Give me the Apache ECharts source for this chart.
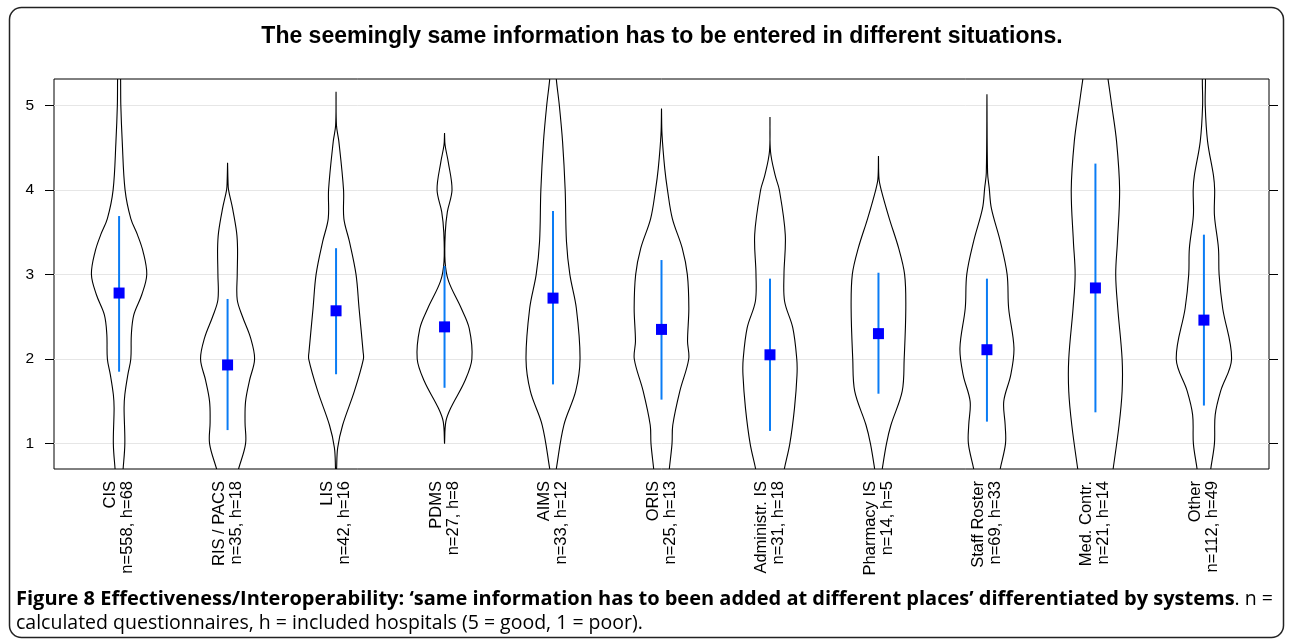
<!DOCTYPE html>
<html>
<head>
<meta charset="utf-8">
<script src="https://cdn.jsdelivr.net/npm/echarts@6/dist/echarts.min.js"></script>
<style>
html,body{margin:0;padding:0;background:#fff;}
#chart{width:1292px;height:644px;}
</style>
</head>
<body>
<div id="chart"></div>
<script>
// ---------------- data ----------------
const categories = ['CIS', 'RIS / PACS', 'LIS', 'PDMS', 'AIMS', 'ORIS', 'Administr. IS', 'Pharmacy IS', 'Staff Roster', 'Med. Contr.', 'Other'];
const sampleInfo = ['n=558, h=68', 'n=35, h=18', 'n=42, h=16', 'n=27, h=8', 'n=33, h=12', 'n=25, h=13', 'n=31, h=18', 'n=14, h=5', 'n=69, h=33', 'n=21, h=14', 'n=112, h=49'];
const means = [2.78, 1.93, 2.57, 2.38, 2.72, 2.35, 2.05, 2.30, 2.11, 2.84, 2.46];
const lowerBars = [1.85, 1.16, 1.82, 1.66, 1.70, 1.52, 1.15, 1.59, 1.26, 1.37, 1.45];
const upperBars = [3.69, 2.71, 3.31, 3.10, 3.75, 3.17, 2.95, 3.02, 2.95, 4.31, 3.47];
const yTicks = [1, 2, 3, 4, 5];

// violin outlines: [score, density half-width in % of category spacing]
const violinCIS = [[5.40,1.2],[5.30,1.4],[5.00,1.6],[4.57,2.9],[4.00,5.5],[3.66,10.8],[3.47,16.9],[3.27,22.1],[3.00,25.5],[2.76,20.9],[2.52,13.5],[2.29,11.3],[2.00,10.8],[1.81,8.0],[1.58,5.3],[1.42,4.6],[1.00,5.3],[0.70,3.7],[0.60,3.0]];
const violinRIS = [[4.32,0.0],[4.10,0.4],[4.00,0.9],[3.78,4.6],[3.50,8.3],[3.30,9.2],[3.00,8.9],[2.70,8.9],[2.50,13.8],[2.25,21.2],[2.00,24.9],[1.75,20.3],[1.50,16.6],[1.25,16.1],[1.00,16.6],[0.70,10.1],[0.60,8.0]];
const violinLIS = [[5.16,0.0],[4.76,0.4],[4.57,2.6],[4.00,6.9],[3.66,7.2],[3.39,12.3],[3.00,18.4],[2.60,21.2],[2.09,24.9],[2.00,25.2],[1.62,16.9],[1.22,6.1],[0.95,1.5],[0.70,0.5],[0.60,0.3]];
const violinPDMS = [[4.67,0.0],[4.53,0.5],[4.33,3.4],[4.00,6.9],[3.74,2.6],[3.50,0.7],[3.15,0.5],[2.92,3.7],[2.60,15.4],[2.36,22.8],[2.00,25.2],[1.74,18.7],[1.42,5.7],[1.26,1.2],[1.00,0.0]];
const violinAIMS = [[5.40,2.8],[5.30,3.1],[5.00,5.8],[4.57,8.8],[4.00,11.2],[3.39,12.4],[3.00,15.5],[2.60,21.5],[2.00,24.9],[1.62,20.9],[1.22,10.0],[0.70,3.0],[0.60,2.0]];
const violinORIS = [[4.96,0.0],[4.65,0.5],[4.25,3.0],[4.00,5.5],[3.66,10.0],[3.31,19.1],[3.00,23.8],[2.60,25.2],[2.21,24.0],[2.00,25.1],[1.62,16.9],[1.22,10.4],[1.00,9.7],[0.70,7.2],[0.60,6.5]];
const violinAdmin = [[4.86,0.0],[4.45,0.5],[4.17,4.8],[4.00,8.6],[3.47,14.1],[3.00,12.9],[2.68,13.5],[2.37,21.0],[2.00,24.7],[1.81,24.9],[1.42,22.6],[1.00,18.3],[0.70,13.2],[0.60,12.0]];
const violinPharmacy = [[4.40,0.0],[4.13,0.5],[4.00,2.5],[3.66,10.0],[3.31,18.6],[3.00,24.1],[2.60,25.2],[2.00,23.7],[1.62,21.9],[1.22,11.5],[1.00,7.4],[0.70,3.5],[0.60,2.5]];
const violinStaff = [[5.13,0.0],[4.20,0.6],[4.02,2.1],[3.78,4.1],[3.39,12.3],[3.00,18.6],[2.60,20.0],[2.13,24.9],[1.81,21.9],[1.50,15.5],[1.22,16.8],[1.00,17.1],[0.70,12.2],[0.60,11.0]];
const violinMed = [[5.40,10.5],[5.30,11.7],[5.00,15.0],[4.57,19.5],[4.00,22.3],[3.39,20.3],[3.00,18.7],[2.60,20.6],[2.00,24.6],[1.62,24.6],[1.22,21.8],[0.70,16.3],[0.60,15.0]];
const violinOther = [[5.40,1.2],[5.00,1.2],[4.57,3.4],[4.17,8.8],[4.00,9.9],[3.70,9.7],[3.31,13.4],[3.00,14.0],[2.60,17.3],[2.00,25.5],[1.62,15.4],[1.34,10.4],[1.00,9.7],[0.70,6.3],[0.60,5.5]];
const violins = [violinCIS, violinRIS, violinLIS, violinPDMS, violinAIMS, violinORIS, violinAdmin, violinPharmacy, violinStaff, violinMed, violinOther];

const titleText = 'The seemingly same information has to be entered in different situations.';
const captionBold = 'Figure 8 Effectiveness/Interoperability: \u2018same information has to been added at different places\u2019 differentiated by systems';
const captionRest1 = '. n =';
const captionLine2 = 'calculated questionnaires, h = included hospitals (5 = good, 1 = poor).';

// ---------------- chart ----------------
const chart = echarts.init(document.getElementById('chart'), null, {renderer: 'canvas'});
const positions = categories.map((c, i) => i + 1);

const option = {
  animation: false,
  backgroundColor: '#fff',
  title: {
    text: titleText,
    left: 657, top: 20, textAlign: 'center',
    textStyle: {fontFamily: 'Liberation Sans', fontWeight: 'bold', fontSize: 23, color: '#000'}
  },
  grid: {left: 54, right: 23, top: 79, bottom: 175, show: true, borderColor: '#000', borderWidth: 1, backgroundColor: 'transparent'},
  xAxis: {
    type: 'value', min: 0.4, max: 11.6,
    axisLine: {show: false},
    axisTick: {show: false},
    splitLine: {show: false},
    axisLabel: {
      customValues: positions,
      rotate: 90, margin: 12,
      fontFamily: 'Liberation Sans', fontSize: 16.5, color: '#000', lineHeight: 17,
      formatter: v => categories[Math.round(v) - 1] + '\n' + sampleInfo[Math.round(v) - 1]
    }
  },
  yAxis: [{
    type: 'value', min: 0.7, max: 5.31,
    axisLine: {show: false},
    axisTick: {show: true, customValues: yTicks, length: 9, lineStyle: {color: '#000'}},
    axisLabel: {customValues: yTicks, margin: 20, fontFamily: 'Liberation Sans', fontSize: 15.5, color: '#000'},
    splitLine: {show: true, lineStyle: {color: '#e6e6e6', width: 1}}
  }, {
    type: 'value', min: 0.7, max: 5.31, position: 'right',
    axisLine: {show: false},
    axisTick: {show: true, customValues: yTicks, length: 9, lineStyle: {color: '#000'}},
    axisLabel: {show: false},
    splitLine: {show: false}
  }],
  graphic: [
    {type: 'rect', shape: {x: 9.5, y: 7.5, width: 1274, height: 630, r: 12}, style: {fill: 'none', stroke: '#222', lineWidth: 1.5}, z: -1},
    {type: 'text', left: 16, top: 589, style: {
      text: '{b|' + captionBold + '}{n|' + captionRest1 + '}\n{n|' + captionLine2 + '}',
      rich: {
        b: {fontFamily: 'Open Sans', fontWeight: 'bold', fontSize: 20, color: '#231f20', lineHeight: 24},
        n: {fontFamily: 'Open Sans', fontSize: 19.5, color: '#3a3a3a', lineHeight: 24}
      }
    }}
  ],
  series: [
    {
      type: 'custom', name: 'violins', clip: true, z: 2,
      data: positions.map(p => [p]),
      renderItem: function (params, api) {
        const x = api.value(0);
        const prof = violins[params.dataIndex];
        const pts = [];
        for (let k = 0; k < prof.length; k++) pts.push(api.coord([x + prof[k][1] / 100, prof[k][0]]));
        for (let k = prof.length - 1; k >= 0; k--) pts.push(api.coord([x - prof[k][1] / 100, prof[k][0]]));
        return {type: 'polygon', shape: {points: pts, smooth: 0.35}, style: {fill: 'none', stroke: '#000', lineWidth: 1.1}};
      }
    },
    {
      type: 'custom', name: 'bars', clip: true, z: 3,
      data: positions.map((p, i) => [p, lowerBars[i], upperBars[i]]),
      renderItem: function (params, api) {
        const a = api.coord([api.value(0), api.value(1)]);
        const b = api.coord([api.value(0), api.value(2)]);
        return {type: 'line', shape: {x1: a[0], y1: a[1], x2: b[0], y2: b[1]}, style: {stroke: '#0a7cf5', lineWidth: 2}};
      }
    },
    {
      type: 'scatter', name: 'means', z: 4,
      symbol: 'rect', symbolSize: 11,
      itemStyle: {color: '#0000ff', opacity: 1},
      data: positions.map((p, i) => [p, means[i]])
    }
  ]
};
chart.setOption(option);
</script>
</body>
</html>
